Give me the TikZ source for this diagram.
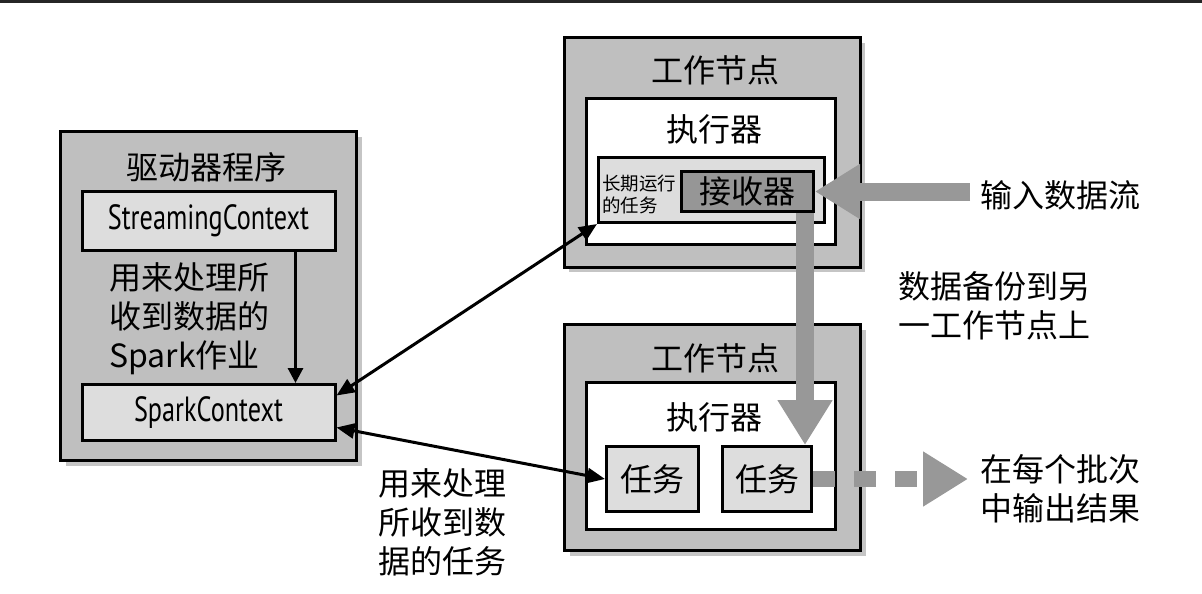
\documentclass[tikz,border=0pt]{standalone}
\usepackage{fontspec}
\usepackage{xcolor}
\usepackage{tikz}
\usetikzlibrary{arrows.meta,positioning,shadows}
\newfontfamily\cjk{Noto Sans CJK SC}
\newfontfamily\narrowsans[FakeStretch=0.75]{PT Sans}
\definecolor{boxgray}{RGB}{191,191,191}
\definecolor{palegray}{RGB}{221,221,221}
\definecolor{recvgray}{RGB}{150,150,150}
\definecolor{flowgray}{RGB}{152,152,152}

\begin{document}
\begin{tikzpicture}[
    x=1pt, y=-1pt,
    outerbox/.style={draw, line width=3pt, fill=boxgray,
        drop shadow={shadow xshift=5pt, shadow yshift=-5pt, fill=black!45, opacity=0.5}},
    execbox/.style={draw, line width=3pt, fill=white},
    taskbox/.style={draw, line width=3pt, fill=palegray, inner sep=0pt, font=\cjk\fontsize{32}{40}\selectfont},
    ctxbox/.style={draw, line width=3pt, fill=palegray, minimum width=253pt, font=\narrowsans\fontsize{35}{40}\selectfont},
    recvbox/.style={draw, line width=3pt, fill=recvgray, inner sep=0pt, font=\cjk\fontsize{32}{40}\selectfont},
    cjktitle/.style={inner sep=0pt, font=\cjk\fontsize{32}{40}\selectfont},
    note/.style={inner sep=0pt, align=left, font=\cjk\fontsize{32}{39}\selectfont},
    smallnote/.style={inner sep=0pt, align=left, font=\cjk\fontsize{18.5}{22}\selectfont},
    linkarrow/.style={{Triangle[length=18pt,width=15pt]}-{Triangle[length=18pt,width=15pt]}, line width=3pt},
    jobarrow/.style={-{Triangle[length=15pt,width=15pt]}, line width=3pt},
    flowarrow/.style={-{Triangle[length=45pt,width=52pt]}, line width=18pt, flowgray},
]
\useasboundingbox (0,0) rectangle (1202,594);
\fill[black!85] (0,0) rectangle (1202,3);

% === Driver program ===
\node[outerbox, minimum width=296pt, minimum height=329pt] (driver) at (208.5,296) {};
\node[cjktitle] (drivertitle) at (206,167) {驱动器程序};
\node[ctxbox, minimum height=59pt] (stream) at (208.5,221) {StreamingContext};
\node[ctxbox, minimum height=56pt] (spark) at (208.5,412.5) {SparkContext};
\node[note, anchor=west] (jobnote) at (109,319) {用来处理所\\收到数据的\\Spark作业};
\draw[jobarrow] ([xshift=87pt]stream.south) -- ([xshift=87pt]spark.north);

% === Worker node with receiver ===
\node[outerbox, minimum width=296pt, minimum height=229pt] (workerA) at (712,152.5) {};
\node[cjktitle] (workerAtitle) at (715,70) {工作节点};
\node[execbox, minimum width=249pt, minimum height=146pt] (execA) at (711,171.5) {};
\node[cjktitle] (execAtitle) at (714,129) {执行器};
\node[taskbox, minimum width=226pt, minimum height=65pt] (longtask) at (711.5,190) {};
\node[smallnote, anchor=west] (longnote) at (602,194) {长期运行\\的任务};
\node[recvbox, minimum width=132pt, minimum height=40pt] (recv) at (747.5,191.5) {接收器};

% === Worker node with tasks ===
\node[outerbox, minimum width=296pt, minimum height=226pt] (workerB) at (712.5,437.5) {};
\node[cjktitle] (workerBtitle) at (715,358) {工作节点};
\node[execbox, minimum width=249pt, minimum height=147pt] (execB) at (711,456) {};
\node[cjktitle] (execBtitle) at (714,417) {执行器};
\node[taskbox, minimum width=92pt, minimum height=65pt] (task1) at (652.5,479) {任务};
\node[taskbox, minimum width=89pt, minimum height=65pt] (task2) at (767,479) {任务};

% === Notes ===
\node[note, anchor=west] (inputnote) at (980,195) {输入数据流};
\node[note, align=center] (backupnote) at (994,306) {数据备份到另\\一工作节点上};
\node[note, anchor=west] (outputnote) at (980,489) {在每个批次\\中输出结果};
\node[note, anchor=west] (tasknote) at (378,522) {用来处理\\所收到数\\据的任务};

% === Connectors ===
\draw[linkarrow] ([yshift=17pt]spark.east) -- (longtask.south west);
\draw[linkarrow] ([yshift=-15pt]spark.east) -- (task1.west);
\draw[flowarrow, shorten <=10pt] (inputnote.west |- recv.east) -- (recv.east);
\draw[flowarrow] ([xshift=-10pt]recv.south east) -- ([xshift=-10pt]recv.south east |- task2.north);
\draw[flowarrow, line width=16pt, dash pattern=on 22pt off 19pt, shorten >=12pt] (task2.east) -- (outputnote.west |- task2.east);

\end{tikzpicture}
\end{document}
